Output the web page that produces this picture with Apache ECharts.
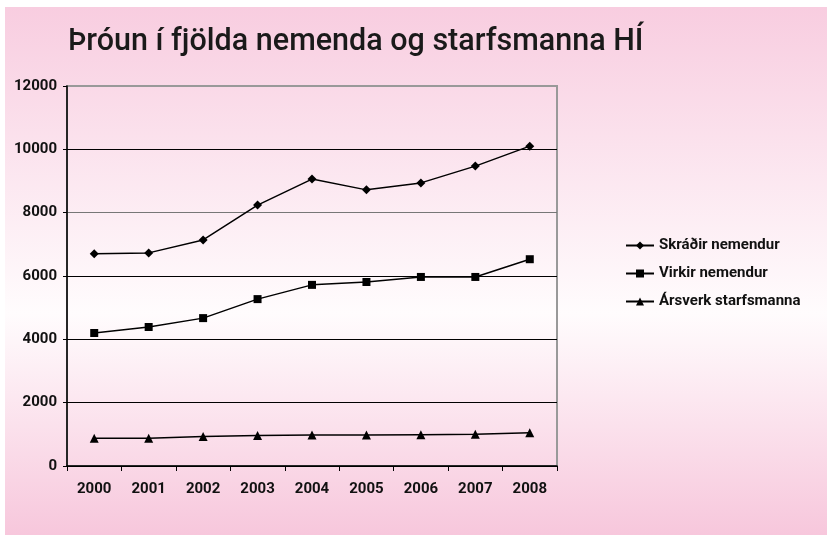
<!DOCTYPE html>
<html>
<head>
<meta charset="utf-8">
<title>Þróun í fjölda nemenda og starfsmanna HÍ</title>
<script src="https://cdn.jsdelivr.net/npm/echarts@6/dist/echarts.min.js"></script>
<style>
  html, body { margin: 0; padding: 0; background: #fff; }
  #chart { width: 827px; height: 535px; }
</style>
</head>
<body>
<div id="chart"></div>
<script>
// gögn lesin af myndinni
var years = ['2000', '2001', '2002', '2003', '2004', '2005', '2006', '2007', '2008'];
var skradir = [6700, 6730, 7140, 8240, 9060, 8720, 8940, 9470, 10100];
var virkir = [4200, 4390, 4670, 5270, 5720, 5810, 5970, 5970, 6530];
var arsverk = [880, 880, 930, 960, 980, 980, 990, 1000, 1050];
var seriesNames = ['Skráðir nemendur', 'Virkir nemendur', 'Ársverk starfsmanna'];

var font = 'Roboto';
var myChart = echarts.init(document.getElementById('chart'));

function lineSeries(name, data, symbol, size) {
    return {
        name: name,
        type: 'line',
        data: data,
        symbol: symbol,
        symbolSize: size,
        itemStyle: { color: '#000' },
        lineStyle: { color: '#000', width: 1.5 },
        emphasis: { disabled: true },
        animation: false
    };
}

option = {
    graphic: [{
        type: 'rect',
        z: -10,
        shape: { x: 5, y: 7, width: 822, height: 528 },
        style: {
            fill: new echarts.graphic.LinearGradient(0, 0, 0, 1, [
                { offset: 0, color: '#f8cde0' },
                { offset: 0.58, color: '#fffcfd' },
                { offset: 1, color: '#f7c7dc' }
            ])
        }
    }],
    title: {
        text: 'Þróun í fjölda nemenda og starfsmanna HÍ',
        left: 63,
        top: 22,
        textStyle: { fontFamily: font, fontSize: 30.5, fontWeight: 500, color: '#1a1a1a' }
    },
    legend: {
        orient: 'vertical',
        left: 620,
        top: 233,
        itemWidth: 28,
        itemHeight: 10,
        itemGap: 13,
        data: seriesNames,
        textStyle: { fontFamily: font, fontSize: 15, fontWeight: 'bold', color: '#111' }
    },
    grid: {
        left: 67, right: 270, top: 86, bottom: 69,
        show: true, borderColor: '#999', borderWidth: 2
    },
    xAxis: {
        type: 'category',
        data: years,
        boundaryGap: true,
        axisLine: { lineStyle: { color: '#000', width: 1.5 } },
        axisTick: { show: true, length: 5, lineStyle: { color: '#000' } },
        axisLabel: { margin: 16, fontFamily: font, fontSize: 15, fontWeight: 'bold', color: '#111' }
    },
    yAxis: {
        type: 'value',
        min: 0,
        max: 12000,
        interval: 2000,
        axisLine: { show: true, lineStyle: { color: '#000', width: 1.5 } },
        axisTick: { show: true, length: 4, lineStyle: { color: '#000' } },
        axisLabel: {
            margin: 10, fontFamily: font, fontSize: 15, fontWeight: 'bold', color: '#111',
            formatter: function (v) { return String(v); }
        },
        splitLine: {
            show: true,
            lineStyle: { color: ['#000', '#000', '#000', '#000', '#777', '#000', '#999'], width: 1.2 }
        }
    },
    series: [
        lineSeries(seriesNames[0], skradir, 'diamond', 9),
        lineSeries(seriesNames[1], virkir, 'rect', 8),
        lineSeries(seriesNames[2], arsverk, 'triangle', 9)
    ]
};

myChart.setOption(option);
window.onresize = myChart.resize;
</script>
</body>
</html>
